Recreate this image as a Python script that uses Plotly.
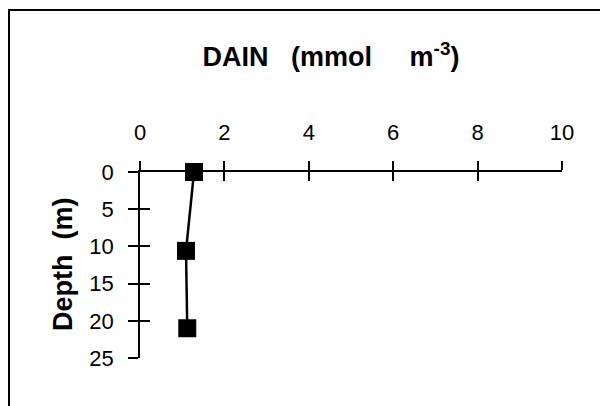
import plotly.graph_objects as go

# Data
dain = [1.28, 1.09, 1.12]          # DAIN (mmol m-3)
depth = [0.0, 10.6, 21.0]          # Depth (m)
x_ticks = [0, 2, 4, 6, 8, 10]
y_ticks = [0, 5, 10, 15, 20, 25]

W, H = 608, 406
OFF = 8  # page body margin offset
# plot area in reference page pixels: x 140..562, y 172..358
L, T = 140 - OFF, 172 - OFF
R, B = W - (562 - OFF), H - (358 - OFF)
pw, ph = W - L - R, H - T - B


def px_x(p):
    return (p - OFF - L) / pw


def px_y(p):
    return (H - B - (p - OFF)) / ph


FONT = "Liberation Sans, Arial, Helvetica, sans-serif"

fig = go.Figure()
fig.add_trace(go.Scatter(
    x=dain, y=depth, mode="lines+markers",
    line=dict(color="black", width=2.5),
    marker=dict(symbol="square", size=18, color="black"),
    cliponaxis=False, showlegend=False, hoverinfo="skip",
))
# invisible companion trace so the overlay axes (crossing ticks) render
fig.add_trace(go.Scatter(
    x=dain, y=depth, xaxis="x2", yaxis="y2", mode="markers",
    opacity=0, showlegend=False, hoverinfo="skip",
))

fig.update_layout(
    width=W, height=H,
    margin=dict(l=L, r=R, t=T, b=B),
    paper_bgcolor="white", plot_bgcolor="white",
    font=dict(family=FONT, color="black"),
    title=dict(
        text="<b>DAIN\u00a0\u00a0\u00a0(mmol\u00a0\u00a0\u00a0\u00a0\u00a0m<sup>-3</sup>)</b>",
        font=dict(size=27, family=FONT, color="black"),
        x=(331 - OFF) / W, y=1 - (57 - OFF) / H, xref="container", yref="container",
        xanchor="center", yanchor="middle",
    ),
    xaxis=dict(
        range=[0, 10], side="top", anchor="y",
        tickvals=x_ticks, ticktext=[str(v) for v in x_ticks],
        ticks="outside", ticklen=9, tickwidth=1.5, tickcolor="black",
        showline=True, linewidth=1.5, linecolor="black",
        showgrid=False, zeroline=False,
        tickfont=dict(size=22, family=FONT), ticklabelstandoff=12,
    ),
    xaxis2=dict(
        range=[0, 10], side="top", overlaying="x", anchor="y2",
        tickvals=x_ticks, showticklabels=False,
        ticks="inside", ticklen=9, tickwidth=1.5, tickcolor="black",
        showline=False, showgrid=False, zeroline=False,
    ),
    yaxis=dict(
        range=[25, 0], anchor="x", side="left",
        tickvals=y_ticks, ticktext=[str(v) for v in y_ticks],
        ticks="outside", ticklen=10, tickwidth=1.5, tickcolor="black",
        showline=True, linewidth=1.5, linecolor="black",
        showgrid=False, zeroline=False,
        tickfont=dict(size=22, family=FONT), ticklabelstandoff=10,
    ),
    yaxis2=dict(
        range=[25, 0], overlaying="y", anchor="x2", side="left",
        tickvals=y_ticks, showticklabels=False,
        ticks="inside", ticklen=10, tickwidth=1.5, tickcolor="black",
        showline=False, showgrid=False, zeroline=False,
    ),
    annotations=[dict(
        text="<b>Depth\u00a0\u00a0(m)</b>", xref="paper", yref="paper",
        x=px_x(63), y=0.5, xanchor="center", yanchor="middle",
        textangle=-90, showarrow=False,
        font=dict(size=27, family=FONT, color="black"),
    )],
    shapes=[dict(
        type="rect", xref="paper", yref="paper",
        x0=px_x(9), x1=px_x(660), y0=px_y(10), y1=px_y(460),
        line=dict(color="black", width=2), fillcolor="rgba(0,0,0,0)",
        layer="above",
    )],
)

fig.write_html("out.html")
